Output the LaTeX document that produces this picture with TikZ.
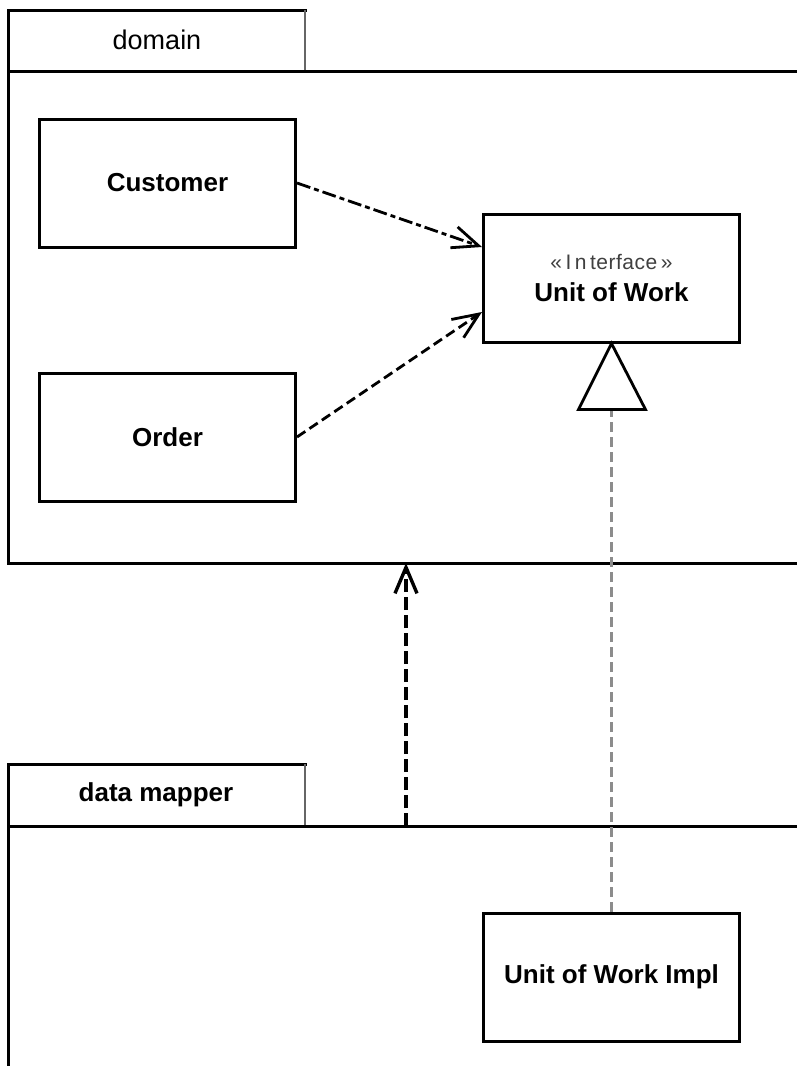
\documentclass[tikz,border=0pt]{standalone}
\usepackage{fontspec}
\setmainfont{Liberation Sans}
\usetikzlibrary{arrows.meta,calc}
\begin{document}
\begin{tikzpicture}[x=1pt,y=-1pt,
  pkg/.style={line width=3pt, line cap=rect},
  tabedge/.style={line width=1.5pt, draw=black!60},
  cls/.style={draw, line width=3pt, minimum width=256pt, minimum height=128pt, inner sep=0pt,
    font=\bfseries\fontsize{26}{32}\selectfont, align=center},
  pkglabel/.style={inner sep=0pt, font=\fontsize{27}{30}\selectfont},
  dep/.style={line width=2.8pt, -{Straight Barb[length=26pt,width=22pt]}},
  real/.style={line width=2.4pt, draw=black!45, dash pattern=on 10pt off 5pt},
  gen/.style={line width=2.8pt, line join=miter}
]
\useasboundingbox (0,0) rectangle (797,1066);
\clip (0,0) rectangle (797,1066);
\fill[white] (0,0) rectangle (797,1066);

% domain package
\draw[pkg] (8,71) -- (8,10) -- (305,10);
\draw[tabedge] (305,10) -- (305,71);
\draw[pkg] (805,71) -- (8,71) -- (8,563) -- (805,563);
\node[pkglabel] (domlabel) at (157,40) {domain};

% data mapper package
\draw[pkg] (8,1075) -- (8,764) -- (305,764);
\draw[tabedge] (305,764) -- (305,826);
\draw[pkg] (8,826) -- (805,826);
\node[pkglabel, font=\bfseries\fontsize{26}{30}\selectfont] (maplabel) at (156,795) {data mapper};

\coordinate (dombot) at (406,563);
\coordinate (maptop) at (406,826);

% classes
\node[cls] (cust) at (167.5,183) {Customer};
\node[cls] (order) at (167.5,437) {Order};
\node[cls] (uow) at (611.5,278) {{\mdseries\color{black!75}\fontsize{21}{32}\selectfont «\,I\,n\,t\kern0.5pt e\kern0.5pt r\kern0.5pt f\kern0.5pt a\kern0.5pt c\kern0.5pt e\,»}\\Unit of Work};
\node[cls] (uowi) at (611.5,977) {Unit of Work Impl};

% dependencies
\draw[dep, dash pattern=on 14pt off 4pt on 5pt off 4pt] (cust.east) -- ($(uow.west)+(0,-31)$);
\draw[dep, dash pattern=on 10pt off 5pt] (order.east) -- ($(uow.west)+(0,34)$);
\draw[dep, line width=3.4pt, dash pattern=on 13pt off 5pt] (maptop) -- (dombot);

% realization
\coordinate (tribase) at ($(uow.south)+(0,66)$);
\draw[real] (uowi.north) -- (tribase);
\draw[gen] (uow.south) -- ++(-33,66) -- ++(67,0) -- cycle;
\end{tikzpicture}
\end{document}
